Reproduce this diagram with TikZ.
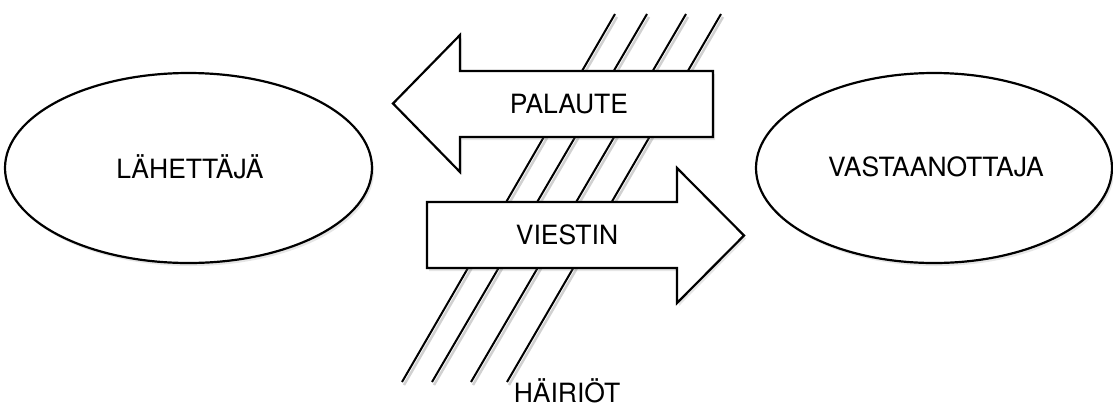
\documentclass[tikz,border=0pt]{standalone}
\usepackage{fontspec}
\setmainfont{TeX Gyre Heros}
\usetikzlibrary{shapes.geometric,shadows}
\begin{document}
\begin{tikzpicture}[x=1pt,y=-1pt,
  lbl/.style={font=\fontsize{26.5}{30}\selectfont, inner sep=0pt},
  party/.style={ellipse, draw, line width=2.2pt, fill=white, inner sep=0pt,
    drop shadow={shadow xshift=2pt, shadow yshift=-3pt, opacity=0.2}},
  bigarrow/.style={draw, line width=2.2pt, fill=white, line join=miter,
    drop shadow={shadow xshift=2pt, shadow yshift=-3pt, opacity=0.2}},
  hatch/.style={line width=2pt},
  hatchshadow/.style={line width=2.5pt, black!18}]
\useasboundingbox (0,0) rectangle (1113,408);
% noise lines
\coordinate (b1) at (402,382); \coordinate (t1) at (615,14);
\coordinate (b2) at (432,382); \coordinate (t2) at (647,14);
\coordinate (b3) at (471,382); \coordinate (t3) at (686,14);
\coordinate (b4) at (507,382); \coordinate (t4) at (721,14);
\foreach \i in {1,...,4} {
  \draw[hatchshadow, transform canvas={shift={(2pt,-3pt)}}] (b\i) -- (t\i);
}
\foreach \i in {1,...,4} {
  \draw[hatch] (b\i) -- (t\i);
}
% ellipses
\node[party, minimum width=367pt, minimum height=190pt] (sender) at (188.5,168) {};
\node[lbl] (senderlbl) at (190,167) {LÄHETTÄJÄ};
\node[party, minimum width=356pt, minimum height=190pt] (receiver) at (934,168) {};
\node[lbl] (receiverlbl) at (936,167) {VASTAANOTTAJA};
% feedback arrow (left)
\draw[bigarrow] (393,103.5) -- (460,35) -- (460,71) -- (713,71) -- (713,137)
  -- (460,137) -- (460,172) -- cycle;
\node[lbl] (palaute) at (569,104) {PALAUTE};
% message arrow (right)
\draw[bigarrow] (427,202) -- (677,202) -- (677,168) -- (744,235.5) -- (677,303)
  -- (677,268) -- (427,268) -- cycle;
\node[lbl] (viestin) at (567,235) {VIESTIN};
% noise label
\node[lbl] (hairiot) at (567,391) {HÄIRIÖT};
\end{tikzpicture}
\end{document}
